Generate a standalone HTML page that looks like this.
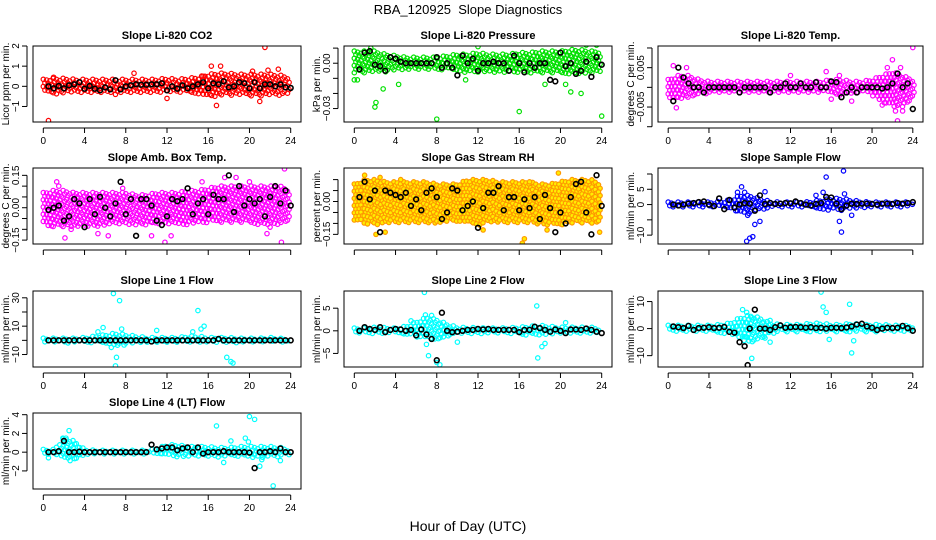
<!DOCTYPE html>
<html><head><meta charset="utf-8">
<style>
html,body{margin:0;padding:0;background:#fff;}
svg{display:block;font-family:"Liberation Sans",Arial,sans-serif;}
</style></head>
<body>
<svg id="chart" width="936" height="540" viewBox="0 0 936 540">
<text x="468" y="14" text-anchor="middle" font-size="13">RBA_120925&#160; Slope Diagnostics</text>
<text x="468" y="531" text-anchor="middle" font-size="14">Hour of Day (UTC)</text>
</svg>
<script>
// ---- shared data ----
const blkHours = [0.5,1,1.5,2,2.5,3,3.5,4,4.5,5,5.5,6,6.5,7,7.5,8,8.5,9,9.5,10,10.5,11,11.5,12,12.5,13,13.5,14,14.5,15,15.5,16,16.5,17,17.5,18,18.5,19,19.5,20,20.5,21,21.5,22,22.5,23,23.5,24];
const bandHours = [0,1,2,3,4,5,6,7,8,9,10,11,12,13,14,15,16,17,18,19,20,21,22,23,24];
const xTicks = [0,4,8,12,16,20,24];

// CO2
const co2BandLo = [-0.35,-0.4,-0.35,-0.35,-0.35,-0.35,-0.35,-0.35,-0.3,-0.3,-0.3,-0.3,-0.3,-0.3,-0.35,-0.4,-0.5,-0.5,-0.45,-0.45,-0.5,-0.5,-0.45,-0.45,-0.4];
const co2BandHi = [0.35,0.4,0.4,0.35,0.35,0.35,0.35,0.35,0.35,0.35,0.35,0.35,0.4,0.35,0.4,0.45,0.6,0.65,0.65,0.6,0.6,0.6,0.6,0.55,0.45];
const co2Blk = [0,-0.1,0.02,-0.1,0.05,0.1,0.2,-0.12,0.02,-0.12,-0.2,-0.05,
-0.15,0.3,-0.15,0,0.05,0.1,0.08,0.08,0.1,0.1,0.15,-0.2,
0,-0.12,0.05,-0.1,0,0.1,0.2,-0.1,0.15,0.1,0.25,-0.05,
0,0.2,0.15,-0.1,0.2,-0.1,0.1,0.1,0,0.1,-0.05,-0.08];
const co2OutX = [0.5,21.5,16.3,17.2,16.8,12,8.8,22.8,21.8,21,1,7,15.5,20.3];
const co2OutY = [-1.7,1.93,1.0,1.0,-0.95,-0.6,0.65,0.85,0.8,-0.75,0.45,-0.4,0.5,0.75];

// Pressure
const presBandLo = [-0.007,-0.007,-0.006,-0.006,-0.005,-0.004,-0.004,-0.004,-0.004,-0.005,-0.006,-0.006,-0.006,-0.006,-0.006,-0.006,-0.006,-0.007,-0.007,-0.007,-0.007,-0.007,-0.007,-0.007,-0.007];
const presBandHi = [0.008,0.008,0.008,0.006,0.005,0.004,0.004,0.004,0.004,0.005,0.006,0.006,0.007,0.006,0.006,0.006,0.007,0.007,0.008,0.008,0.008,0.009,0.009,0.008,0.008];
const presBlk = [-0.004,0.007,0.008,-0.001,-0.002,-0.005,0.004,0.003,0.001,0,0,0,
0,0,0,0.004,-0.003,0,-0.003,-0.008,0.005,0,0.003,-0.005,
0,0,0.001,0,0,-0.005,0.005,0,-0.006,0,-0.003,0,
0,-0.011,-0.012,0.007,-0.002,0,-0.007,-0.005,0.001,-0.009,0.004,-0.001];
const presOutX = [2,2.1,8,16,24,21,22,2.8,0,1.6,12,22.5,23.5,4.3,18.5,20.5,10.8,0.3];
const presOutY = [-0.029,-0.026,-0.037,-0.032,-0.035,-0.019,-0.020,-0.017,-0.011,0.010,0.011,0.012,0.012,-0.014,-0.014,-0.014,-0.011,-0.011];

// Li-820 Temp
const ltBandLo = [-0.003,-0.003,-0.003,-0.002,-0.0015,-0.0015,-0.0015,-0.0015,-0.0015,-0.0015,-0.0015,-0.0015,-0.0015,-0.0015,-0.0015,-0.0015,-0.002,-0.002,-0.0015,-0.0015,-0.002,-0.004,-0.005,-0.005,-0.003];
const ltBandHi = [0.002,0.003,0.003,0.002,0.0015,0.0015,0.0015,0.0015,0.0015,0.0015,0.0015,0.0015,0.0015,0.0015,0.0015,0.0015,0.002,0.002,0.0015,0.0015,0.002,0.003,0.004,0.003,0.002];
const ltBlk = [-0.0035,0.005,0.0025,0.001,0,0,-0.0013,0,0,0,0,0,
0,-0.0013,0,0,0,0,0,-0.0013,0,0,0.001,0,
0,0.001,0,0,0.0013,0,0,0.0015,0.0013,-0.0025,-0.0013,0,
-0.0013,0,0,0,0,-0.0003,0,0.001,0.0035,0,0.001,-0.0055];
const ltOutX = [0.5,0.8,22,24,22.5,22.3,21.5,22.8,15.5,18,1.8,16,21,12,16.8,23];
const ltOutY = [0.0055,-0.0052,0.007,0.0101,-0.0085,-0.006,0.005,0.005,0.004,-0.0035,0.005,-0.003,-0.0045,0.003,0.003,-0.006];

// Amb Box Temp
const abBandLo = [-0.08,-0.09,-0.09,-0.09,-0.09,-0.09,-0.08,-0.08,-0.08,-0.08,-0.08,-0.08,-0.08,-0.08,-0.08,-0.07,-0.07,-0.07,-0.07,-0.07,-0.07,-0.08,-0.08,-0.08,-0.07];
const abBandHi = [0.07,0.08,0.08,0.07,0.07,0.07,0.07,0.07,0.07,0.06,0.06,0.07,0.07,0.07,0.08,0.08,0.09,0.1,0.1,0.1,0.1,0.1,0.1,0.1,0.08];
const abBlk = [-0.01,0,0.01,-0.06,-0.04,0.04,0.02,-0.09,0.04,-0.03,0.05,0,
-0.04,0.02,0.12,-0.03,0.04,-0.13,0.04,0.04,0.01,-0.06,-0.08,-0.04,
0.04,0.03,0.04,0.09,-0.03,0.02,0.04,-0.03,0.06,0.04,0.04,0.15,
-0.02,0.1,0.01,0.04,0.02,0.04,-0.04,0.05,0.1,0.02,0.08,0.01];
const abOutX = [1.3,1.5,2.1,11.8,12.4,15.4,18.7,21.7,23.1,23.4,5.3,7.7,17.6,20,22,2.7,6.3,10.5];
const abOutY = [0.12,0.1,-0.14,-0.16,-0.13,0.12,0.14,-0.12,-0.16,0.18,-0.12,0.09,0.14,0.12,-0.09,-0.1,-0.13,-0.13];

// Gas Stream RH
const rhBandLo = [-0.09,-0.1,-0.11,-0.1,-0.1,-0.1,-0.1,-0.1,-0.1,-0.09,-0.09,-0.1,-0.11,-0.1,-0.1,-0.1,-0.1,-0.1,-0.11,-0.11,-0.11,-0.1,-0.1,-0.1,-0.09];
const rhBandHi = [0.08,0.1,0.1,0.09,0.09,0.09,0.09,0.09,0.08,0.08,0.08,0.1,0.1,0.1,0.09,0.09,0.09,0.09,0.08,0.08,0.09,0.1,0.1,0.1,0.08];
const rhBlk = [0.02,0.09,0.01,0.05,-0.14,0.05,0.04,0.03,0.02,0.04,-0.02,0.01,
-0.04,0.04,0.06,0.02,-0.08,-0.05,0.06,0.05,-0.04,-0.02,0,-0.12,
-0.03,0.04,0.04,0.07,-0.04,0.02,0.02,-0.04,0.01,-0.03,0.02,-0.08,
0.03,-0.03,-0.14,-0.05,-0.1,0.02,0.08,0.09,-0.05,-0.15,0.12,-0.02];
const rhOutX = [2.1,16.3,16.5,23.8,12.5,1,2.5,19.8,4.5,17,18.7,3];
const rhOutY = [-0.15,-0.19,-0.17,-0.14,-0.13,0.12,0.11,0.13,0.1,0.09,-0.13,-0.14];

// Sample Flow
const sfBandLo = [-0.8,-0.8,-0.8,-0.8,-0.8,-1,-1.5,-3,-3,-2,-1,-0.8,-0.8,-0.8,-1,-1.5,-2,-2,-1.5,-1,-0.8,-0.8,-0.8,-0.8,-0.6];
const sfBandHi = [0.8,0.8,0.8,0.8,0.8,1,1.5,3,3,2,1,0.8,0.8,0.8,1,1.5,2,2,1.5,1,0.8,0.8,0.8,0.8,0.8];
const sfBlk = [0,-0.3,0,0.3,0.5,0.8,1,0,-0.5,2,-1.5,1.5,
-1,0,0.5,0.3,-2,3,0.2,0.5,0.2,0.3,0.5,0.4,
1,0.5,0,-0.3,0.2,0.5,2.5,2.3,0.3,-1.5,-0.3,0.3,
0.2,0.3,0.3,0.2,0,0.3,0.3,0.2,0.5,0.3,0.5,0.8];
const sfOutX = [7.7,8,8.3,15.5,17.2,17,16.8,7.2,9.5,9,8.5,15.2,14.5,17.3,7.8,18,6.8,7.5];
const sfOutY = [-12,-11,-10.5,9,11,-9,-5.5,5.8,4.2,-5.5,-6.5,4,3,3.5,-3.5,-3.5,4,4];

// Line 1 Flow
const l1BandLo = [-1.5,-1.5,-2,-1.5,-1.5,-2,-3,-4,-3,-2,-1.5,-1.5,-2,-1.5,-2,-2,-2,-2,-2,-1.5,-1.5,-1.5,-1.5,-1.5,-1];
const l1BandHi = [1.5,1.5,1.5,1.5,2,3,4,5,4,3,2,2,2,2,3,3,2,2,2,1.5,1.5,1.5,2,1.5,1];
const l1Blk = [0,0,0,0,0,0,0,0,0,0,0,0,
0,0,0,0,0,0,0,0,-0.8,0,0,0,
0,0,0,0,0,0,0,0,0,1,0,0,
0,0,0,0,0,0,0,0,0,0,0,0];
const l1OutX = [6.8,7.4,7,7.1,7.6,5.8,5.3,15,15.6,15.3,17.8,18.2,18.4,11,14.5,6.6];
const l1OutY = [33,28,-18,-12,8,9,6,21,10,8,-12,-15,-16,7,6,-5];

// Line 2 Flow
const l2BandLo = [-0.6,-0.6,-0.7,-0.6,-0.6,-0.8,-1.5,-2,-2,-1.2,-0.7,-0.6,-0.6,-0.6,-0.6,-0.7,-0.8,-1,-1.2,-0.8,-0.7,-0.7,-0.7,-0.7,-0.5];
const l2BandHi = [0.6,0.6,0.8,0.7,0.6,1,2,3,2.5,1.5,0.8,0.7,0.7,0.6,0.6,0.7,0.8,1,1.2,1,0.8,0.8,0.8,0.8,0.5];
const l2Blk = [0,0.8,0.4,0.2,0.8,-0.3,0.2,0.4,0.3,0,0.2,-1,
0.3,-0.8,-1.8,-6.5,4,0,-0.3,-0.2,0,0.2,0.2,0.4,
0.3,0.4,0.2,0.2,0.2,0.2,0.2,-0.3,0.2,0.2,0.9,0.6,
0.2,-0.2,0.3,0,-0.5,0.3,0.3,0.2,0.5,0.2,-0.2,-0.5];
const l2OutX = [6.8,7.2,8.3,6.9,7.5,7,17.7,17.8,18.2,18.5,20.5,10,5.5,7.8,8];
const l2OutY = [8.5,-5.5,-7.5,3.5,3.4,-3,5.5,-6,-3.5,-2.8,1.8,-2.5,2.2,-1.8,-7];

// Line 3 Flow
const l3BandLo = [-1.2,-1.2,-1.2,-1.2,-1.2,-1.5,-2,-4,-5,-4,-2,-1.2,-1.2,-1.2,-1.2,-1.5,-1.5,-1.5,-1.5,-1.2,-1.2,-1.2,-1.2,-1.2,-1];
const l3BandHi = [1.2,1.2,1.2,1.2,1.2,1.5,2,4,5,4,2,1.5,1.5,1.5,2,2,1.5,1.5,2,1.5,1.5,1.5,1.2,1.2,1];
const l3Blk = [0.8,0.5,0.2,1,-0.5,0.2,0.3,0.5,0.2,0.3,0.6,-1.2,
-1.5,-5,-6.5,0,7,0,0,-0.5,0.5,1.2,0.3,0.5,
0.6,0.5,0.3,0.5,0.2,0.3,0,0.3,0.3,0.2,0.4,0.8,
1.5,1.8,0.8,0.3,-0.5,0,0.3,0.2,0.3,1,0.2,-0.8];
const l3OutX = [15,15.2,15.5,15.8,17.8,18,18.2,8.2,7.3,7.7,10,10,9.5,7.5,8.2];
const l3OutY = [13.5,8,6,-4,9,-9,-4.5,-11,7,6,3,-5,-3.5,-3,4];
const l3BlkOutX = [7.8];
const l3BlkOutY = [-13.5];

// Line 4 (LT) Flow
const l4BandLo = [-0.3,-0.3,-0.8,-0.8,-0.3,-0.2,-0.2,-0.2,-0.2,-0.2,-0.2,-0.3,-0.5,-0.5,-0.5,-0.5,-0.5,-0.5,-0.5,-0.5,-0.6,-0.6,-0.5,-0.5,-0.3];
const l4BandHi = [0.3,0.3,1.5,1.2,0.3,0.2,0.2,0.2,0.2,0.2,0.2,0.4,0.8,0.8,0.6,0.6,0.6,0.5,0.5,0.6,0.6,0.6,0.6,0.5,0.3];
const l4Blk = [0,0,0.1,1.2,0,0,0.05,0,0,0,0,0,
0,0,0,0,0,0,0,0,0.8,0.3,0.4,0.5,
0.5,0.2,0.4,0.5,0,0.5,-0.15,0,0,0,0.1,0,
0,0,0,-0.05,-1.7,0,0,0.1,0,0.4,0,0];
const l4OutX = [20,20.5,22.3,16.8,19.6,19.9,21,2.5,2.2,1.9,2.6,0.5,17.5,18.2,23,21.2];
const l4OutY = [3.8,3.5,-3.6,2.8,1.5,1.1,-1.5,2.3,1.5,1.5,-0.9,-0.6,-1.1,1.2,-0.9,-0.8];

// ---- panel definitions ----
const panels = [
 {id:'co2',title:'Slope Li-820 CO2',ylab:'Licor ppm per min.',col:'#ff0000',x0:33,y0:46,w:268,ylim:[-1.77,2.0],ticks:[-1,0,1,2],labels:['\u22121','0','1','2'],lo:co2BandLo,hi:co2BandHi,blk:co2Blk,ox:co2OutX,oy:co2OutY,xl:true},
 {id:'pressure',title:'Slope Li-820 Pressure',ylab:'kPa per min.',col:'#00e000',x0:344,y0:46,w:268,ylim:[-0.0389,0.0114],ticks:[-0.03,-0.02,-0.01,0,0.01],labels:['\u22120.03','','','0.00',''],lo:presBandLo,hi:presBandHi,blk:presBlk,ox:presOutX,oy:presOutY,xl:true},
 {id:'li820-temp',title:'Slope Li-820 Temp.',ylab:'degrees C per min.',col:'#ff00ff',x0:658,y0:46,w:265,ylim:[-0.0088,0.0105],ticks:[-0.01,-0.005,0,0.005,0.01],labels:['','\u22120.005','','0.005',''],lo:ltBandLo,hi:ltBandHi,blk:ltBlk,ox:ltOutX,oy:ltOutY,xl:true},
 {id:'amb-box-temp',title:'Slope Amb. Box Temp.',ylab:'degrees C per min.',col:'#ff00ff',x0:33,y0:168,w:268,ylim:[-0.168,0.184],ticks:[-0.15,-0.1,-0.05,0,0.05,0.1,0.15],labels:['\u22120.15','','','0.00','','','0.15'],lo:abBandLo,hi:abBandHi,blk:abBlk,ox:abOutX,oy:abOutY,xl:false},
 {id:'gas-stream-rh',title:'Slope Gas Stream RH',ylab:'percent per min.',col:'#ff9900',fill:'#ffee00',x0:344,y0:168,w:268,ylim:[-0.194,0.153],ticks:[-0.15,-0.1,-0.05,0,0.05,0.1],labels:['\u22120.15','','','0.00','',''],lo:rhBandLo,hi:rhBandHi,blk:rhBlk,ox:rhOutX,oy:rhOutY,xl:false},
 {id:'sample-flow',title:'Slope Sample Flow',ylab:'ml/min per min.',col:'#0000ff',x0:658,y0:168,w:265,ylim:[-12.9,11.96],ticks:[-10,-5,0,5,10],labels:['\u221210','','0','5',''],lo:sfBandLo,hi:sfBandHi,blk:sfBlk,ox:sfOutX,oy:sfOutY,xl:false},
 {id:'line1-flow',title:'Slope Line 1 Flow',ylab:'ml/min per min.',col:'#00ffff',x0:33,y0:291,w:268,ylim:[-18.8,34.8],ticks:[-10,0,10,20,30],labels:['\u221210','','10','','30'],lo:l1BandLo,hi:l1BandHi,blk:l1Blk,ox:l1OutX,oy:l1OutY,xl:true},
 {id:'line2-flow',title:'Slope Line 2 Flow',ylab:'ml/min per min.',col:'#00ffff',x0:344,y0:291,w:268,ylim:[-8.0,8.8],ticks:[-5,0,5],labels:['\u22125','0','5'],lo:l2BandLo,hi:l2BandHi,blk:l2Blk,ox:l2OutX,oy:l2OutY,xl:true},
 {id:'line3-flow',title:'Slope Line 3 Flow',ylab:'ml/min per min.',col:'#00ffff',x0:658,y0:291,w:265,ylim:[-14.2,13.9],ticks:[-10,0,10],labels:['\u221210','0','10'],lo:l3BandLo,hi:l3BandHi,blk:l3Blk,ox:l3OutX,oy:l3OutY,bx:l3BlkOutX,by:l3BlkOutY,xl:true},
 {id:'line4-flow',title:'Slope Line 4 (LT) Flow',ylab:'ml/min per min.',col:'#00ffff',x0:33,y0:413,w:268,ylim:[-3.93,4.18],ticks:[-2,0,2,4],labels:['\u22122','0','2','4'],lo:l4BandLo,hi:l4BandHi,blk:l4Blk,ox:l4OutX,oy:l4OutY,xl:true}
];

const NS='http://www.w3.org/2000/svg';
const svg=document.getElementById('chart');
const PH=76;
function mk(tag,attrs,parent){const e=document.createElementNS(NS,tag);for(const k in attrs)e.setAttribute(k,attrs[k]);parent.appendChild(e);return e;}
function lerp(arr,h){const i=Math.min(Math.floor(h),arr.length-2);const t=h-i;return arr[i]*(1-t)+arr[i+1]*t;}

panels.forEach(p=>{
  const g=mk('g',{},svg);
  
  
  const xS=h=>p.x0+(h+1)/26*p.w;
  const yS=v=>p.y0+PH-(v-p.ylim[0])/(p.ylim[1]-p.ylim[0])*PH;
  const clip='clip-'+p.id;
  const cp=mk('clipPath',{id:clip},g);
  mk('rect',{x:p.x0,y:p.y0,width:p.w,height:PH},cp);
  const marks=mk('g',{'clip-path':'url(#'+clip+')'},g);
  
  
  const sw=1.2, r=2.2;
  const fillc=p.fill||'none';
  let col=0;
  for(let px=xS(0);px<=xS(24)+0.1;px+=3.3){
    const h=(px-p.x0)/p.w*26-1;
    const hc=Math.max(0,Math.min(24,h));
    const top=yS(lerp(p.hi,hc)), bot=yS(lerp(p.lo,hc));
    let k=0;
    const off=(col%3)*1.1;
    for(let py=top+off;py<=bot;py+=3.6){
      const c=mk('circle',{cx:(px+(k%2)*1.6).toFixed(1),cy:py.toFixed(1),r:r,fill:fillc,stroke:p.col,'stroke-width':sw},marks);
      
      
      k++;
    }
    col++;
  }
  p.ox.forEach((h,i)=>{
    const c=mk('circle',{cx:xS(h),cy:yS(p.oy[i]),r:r,fill:fillc,stroke:p.col,'stroke-width':sw},marks);
    
    
  });
  blkHours.forEach((h,i)=>{
    const c=mk('circle',{cx:xS(h),cy:yS(p.blk[i]),r:r+0.2,fill:'none',stroke:'#000','stroke-width':1.6},marks);
    
    
  });
  if(p.bx){p.bx.forEach((h,i)=>{
    const c=mk('circle',{cx:xS(h),cy:yS(p.by[i]),r:r+0.2,fill:'none',stroke:'#000','stroke-width':1.6},marks);
    
    
  });}
  const box=mk('rect',{x:p.x0,y:p.y0,width:p.w,height:PH,fill:'none',stroke:'#000','stroke-width':1},g);
  
  
  const t=mk('text',{x:p.x0+p.w/2,y:p.y0-7,'text-anchor':'middle','font-size':11,'font-weight':'bold'},g);
  t.textContent=p.title;
  
  
  const xa=mk('g',{},g);
  
  
  const yb=p.y0+PH;
  mk('line',{x1:xS(0),x2:xS(24),y1:yb+6,y2:yb+6,stroke:'#000','stroke-width':1},xa);
  xTicks.forEach(v=>{
    mk('line',{x1:xS(v),x2:xS(v),y1:yb+6,y2:yb+11,stroke:'#000','stroke-width':1},xa);
    if(p.xl){
      const tl=mk('text',{x:xS(v),y:yb+22,'text-anchor':'middle','font-size':10},xa);
      tl.textContent=v;
      
      
    }
  });
  const ya=mk('g',{},g);
  
  
  const xl=p.x0-6;
  mk('line',{x1:xl,x2:xl,y1:yS(p.ticks[0]),y2:yS(p.ticks[p.ticks.length-1]),stroke:'#000','stroke-width':1},ya);
  p.ticks.forEach((v,i)=>{
    mk('line',{x1:xl-5,x2:xl,y1:yS(v),y2:yS(v),stroke:'#000','stroke-width':1},ya);
    if(p.labels[i]){
      const tl=mk('text',{x:0,y:0,'text-anchor':'middle','font-size':10,transform:'translate('+(xl-8)+','+yS(v)+') rotate(-90)'},ya);
      tl.textContent=p.labels[i];
      
      
    }
  });
  const yl=mk('text',{x:0,y:0,'text-anchor':'middle','font-size':10,transform:'translate('+(p.x0-24)+','+(p.y0+PH/2)+') rotate(-90)'},g);
  yl.textContent=p.ylab;
  
  
});
</script>
</body></html>
